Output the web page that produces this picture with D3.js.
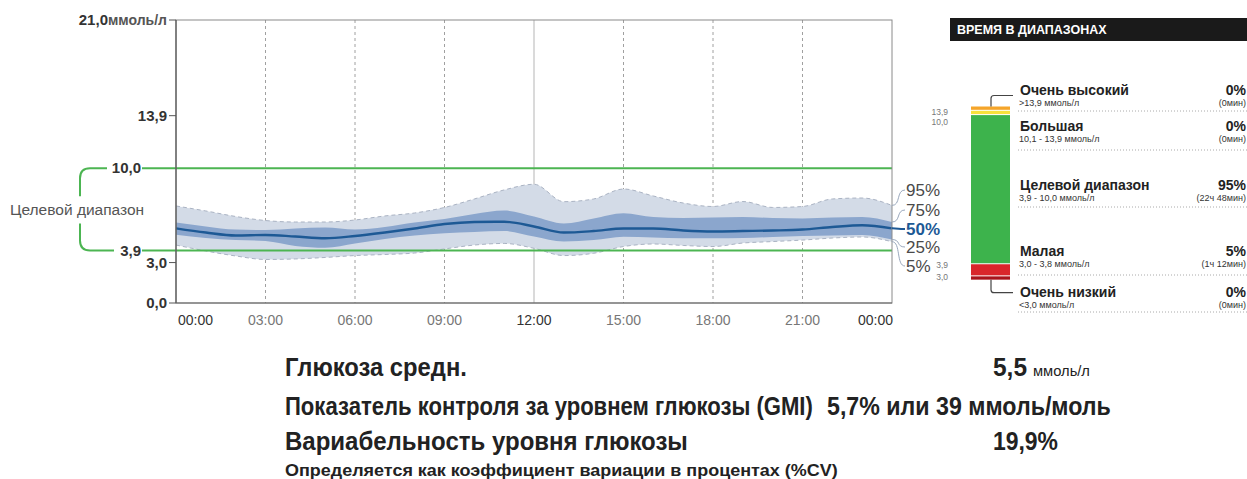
<!DOCTYPE html>
<html><head><meta charset="utf-8">
<script src="https://cdn.jsdelivr.net/npm/d3@7"></script>
<style>
html,body{margin:0;padding:0;background:#fff;}
svg{display:block;font-family:"Liberation Sans",Arial,sans-serif;}
</style></head>
<body><svg id="c" width="1247" height="479"></svg>
<script>
// ---- data ----
const hours = [0,1,2,3,4,5,6,7,8,9,10,11,12,13,14,15,16,17,18,19,20,21,22,23,24];
const p95 = [7.20,6.83,6.42,6.12,6.01,6.01,6.16,6.46,6.68,7.09,7.72,8.39,8.81,7.52,7.72,8.46,7.94,7.42,7.16,7.53,7.09,7.16,7.72,7.79,7.24];
const p75 = [5.97,5.68,5.45,5.42,5.53,5.60,5.45,5.64,5.97,6.23,6.60,6.86,6.42,5.90,6.27,6.66,6.38,6.31,6.34,6.38,6.31,6.27,6.34,6.38,6.01];
const p50 = [5.54,5.23,5.01,5.05,4.93,4.80,4.97,5.23,5.53,5.86,6.01,6.03,5.68,5.23,5.34,5.53,5.53,5.38,5.31,5.34,5.38,5.45,5.64,5.77,5.54];
const p25 = [5.07,4.82,4.67,4.60,4.23,4.10,4.42,4.75,5.01,5.17,5.27,5.34,4.93,4.56,4.67,4.92,4.86,4.80,4.80,4.82,4.90,4.97,5.01,5.05,4.71];
const p5  = [4.30,3.86,3.49,3.23,3.27,3.38,3.52,3.60,3.71,4.01,4.30,4.42,4.06,3.52,3.69,4.19,4.38,4.27,4.19,4.45,4.56,4.67,4.82,4.90,4.55];
const xTickHours = [0,3,6,9,12,15,18,21,24];
const xTickLabels = ["00:00","03:00","06:00","09:00","12:00","15:00","18:00","21:00","00:00"];
const yTicks = [21.0, 13.9, 3.0, 0.0];
const yTickLabels = ["21,0", "13,9", "3,0", "0,0"];
const targetLow = 3.9, targetHigh = 10.0;
const targetLabels = ["10,0", "3,9"];
const pctLabels = ["95%","75%","50%","25%","5%"];

const tirTitles = ["Очень высокий","Большая","Целевой диапазон","Малая","Очень низкий"];
const tirRanges = [">13,9 ммоль/л","10,1 - 13,9 ммоль/л","3,9 - 10,0 ммоль/л","3,0 - 3,8 ммоль/л","<3,0 ммоль/л"];
const tirPercents = [0, 0, 95, 5, 0];
const tirDurations = ["(0мин)","(0мин)","(22ч 48мин)","(1ч 12мин)","(0мин)"];
const barBoundLabels = ["13,9","10,0","3,9","3,0"];

const statLabels = ["Глюкоза средн.","Показатель контроля за уровнем глюкозы (GMI)","Вариабельность уровня глюкозы"];
const statValues = ["5,5","5,7% или 39 ммоль/моль","19,9%"];
const statUnit = "ммоль/л";
const statNote = "Определяется как коэффициент вариации в процентах (%CV)";

// ---- styles ----
const tirColors = ["#f5a52a","#f7e13c","#3db34c","#d9262b","#a8141c"];
const cLight = "#d3dbe7", cDark = "#8ba6cd", cMed = "#1d5995", cGreen = "#4cb552";

const svg = d3.select("#c");
const x = d3.scaleLinear().domain([0,24]).range([176,892]);
const y = d3.scaleLinear().domain([0,21]).range([303,20]);

// gridlines
svg.append("g").selectAll("line").data(xTickHours.slice(1,-1)).join("line")
  .attr("x1",d=>x(d)).attr("x2",d=>x(d)).attr("y1",y(21)).attr("y2",y(0))
  .attr("stroke",d=>d===12?"#b5b5b5":"#a0a0a0")
  .attr("stroke-width",1)
  .attr("stroke-dasharray",d=>d===12?null:"3,3");

// bands
const rows = hours.map((h,i)=>({h,p95:p95[i],p75:p75[i],p50:p50[i],p25:p25[i],p5:p5[i]}));
const curve = d3.curveMonotoneX;
svg.append("path").datum(rows)
  .attr("d", d3.area().x(d=>x(d.h)).y0(d=>y(d.p5)).y1(d=>y(d.p95)).curve(curve))
  .attr("fill", cLight);
["p95","p5"].forEach(k=>{
  svg.append("path").datum(rows)
    .attr("d", d3.line().x(d=>x(d.h)).y(d=>y(d[k])).curve(curve))
    .attr("fill","none").attr("stroke","#aab3c3").attr("stroke-width",1).attr("stroke-dasharray","4,3");
});
svg.append("path").datum(rows)
  .attr("d", d3.area().x(d=>x(d.h)).y0(d=>y(d.p25)).y1(d=>y(d.p75)).curve(curve))
  .attr("fill", cDark);

// target lines
svg.append("g").selectAll("line").data([targetHigh,targetLow]).join("line")
  .attr("x1",142).attr("x2",x(24)).attr("y1",d=>y(d)).attr("y2",d=>y(d))
  .attr("stroke",cGreen).attr("stroke-width",2);

// median
svg.append("path").datum(rows)
  .attr("d", d3.line().x(d=>x(d.h)).y(d=>y(d.p50)).curve(curve))
  .attr("fill","none").attr("stroke",cMed).attr("stroke-width",2.4);

// frame
svg.append("rect").attr("x",x(0)).attr("y",y(21)).attr("width",x(24)-x(0)).attr("height",y(0)-y(21))
  .attr("fill","none").attr("stroke","#8a8a8a").attr("stroke-width",1);
svg.append("line").attr("x1",x(0)).attr("x2",x(0)).attr("y1",y(21)).attr("y2",y(0)).attr("stroke","#555").attr("stroke-width",1.2);
svg.append("line").attr("x1",x(0)).attr("x2",x(24)).attr("y1",y(0)).attr("y2",y(0)).attr("stroke","#666").attr("stroke-width",1.2);

// y ticks
const yg = svg.append("g");
yTicks.forEach((v,i)=>{
  yg.append("line").attr("x1",x(0)-7).attr("x2",x(0)).attr("y1",y(v)).attr("y2",y(v)).attr("stroke","#555");
  const t = yg.append("text").attr("x",x(0)-9).attr("y",y(v)).attr("dy","0.35em").attr("text-anchor","end")
    .attr("font-size",15).attr("font-weight","bold").attr("fill","#333");
  if(i===0){ t.text(yTickLabels[i]).append("tspan").attr("font-size",14).attr("fill","#555").text("ммоль/л"); }
  else t.text(yTickLabels[i]);
});
[targetHigh,targetLow].forEach((v,i)=>{
  yg.append("text").attr("x",141).attr("y",y(v)).attr("dy","0.35em").attr("text-anchor","end")
    .attr("font-size",15).attr("font-weight","bold").attr("fill","#333").text(targetLabels[i]);
});

// target bracket
const yt = y(targetHigh), yb = y(targetLow);
svg.append("path").attr("d",`M107,${yt} H90 Q80,${yt} 80,${yt+10} V${yt+28}`)
  .attr("fill","none").attr("stroke",cGreen).attr("stroke-width",2);
svg.append("path").attr("d",`M80,${yb-27} V${yb-10} Q80,${yb} 90,${yb} H114`)
  .attr("fill","none").attr("stroke",cGreen).attr("stroke-width",2);
svg.append("text").attr("x",10).attr("y",(yt+yb)/2).attr("dy","0.35em").attr("font-size",15.5)
  .attr("fill","#555").text("Целевой диапазон");

// x tick labels
svg.append("g").selectAll("text").data(xTickHours).join("text")
  .attr("x",(d,i)=> i===0 ? x(d)+2 : (i===xTickHours.length-1 ? x(d)+1 : x(d)))
  .attr("y",325).attr("text-anchor",(d,i)=> i===0?"start":(i===xTickHours.length-1?"end":"middle"))
  .attr("font-size",14).attr("fill",d=>(d%12===0)?"#333":"#777")
  .text((d,i)=>xTickLabels[i]);

// percentile labels
const last = rows[rows.length-1];
const pctKeys = ["p95","p75","p50","p25","p5"];
const pctY = [190,210,229,247,266];
const x0 = x(24), x1 = x0+13;
pctKeys.forEach((k,i)=>{
  const y0 = y(last[k]), y1 = pctY[i];
  svg.append("path").attr("d",`M${x0},${y0} C${x0+9},${y0} ${x1-9},${y1} ${x1},${y1}`)
    .attr("fill","none").attr("stroke",k==="p50"?cMed:"#9aa8bd").attr("stroke-width",k==="p50"?2:1);
  svg.append("text").attr("x",x1+1).attr("y",y1).attr("dy","0.35em").attr("font-size",17)
    .attr("font-weight",k==="p50"?"bold":"normal").attr("fill",k==="p50"?cMed:"#4a4a4a").text(pctLabels[i]);
});

// ---- right panel ----
svg.append("rect").attr("x",950).attr("y",18).attr("width",297).attr("height",23).attr("fill","#1a1a1a");
svg.append("text").attr("x",957).attr("y",30).attr("dy","0.35em").attr("font-size",12.5).attr("font-weight","bold")
  .attr("fill","#fff").text("ВРЕМЯ В ДИАПАЗОНАХ");

const hS = d3.scalePow().exponent(0.88).domain([0,100]).range([0,155]);
let cy = 106.5;
const segs = tirPercents.map((p,i)=>{ const h = Math.max(3.3,hS(p)); const s={y:cy,h,i}; cy += h+1; return s; });
svg.append("g").selectAll("rect").data(segs).join("rect")
  .attr("x",971).attr("width",39).attr("y",d=>d.y).attr("height",d=>d.h).attr("fill",d=>tirColors[d.i]);
const bl = [segs[1].y, segs[2].y, segs[3].y, segs[4].y];
const blY = [bl[0]+1, bl[1]+7, bl[2]+1, bl[3]+1];
svg.append("g").selectAll("text").data(barBoundLabels).join("text")
  .attr("x",948).attr("y",(d,i)=>blY[i]).attr("dy","0.35em").attr("text-anchor","end")
  .attr("font-size",8.5).attr("fill","#777").text(d=>d);
// brackets
const topY = segs[0].y, botY = segs[4].y+segs[4].h;
svg.append("path").attr("d",`M991,${topY} V${topY-8} Q991,${topY-11} 994,${topY-11} H1013`)
  .attr("fill","none").attr("stroke","#444").attr("stroke-width",1.2);
svg.append("path").attr("d",`M991,${botY} V${botY+10} Q991,${botY+13} 994,${botY+13} H1013`)
  .attr("fill","none").attr("stroke","#444").attr("stroke-width",1.2);

const rowTitleY = [90,126,185,251,292];
const sepY = [111,150,207,275,312];
const rp = svg.append("g");
tirTitles.forEach((t,i)=>{
  rp.append("text").attr("x",1020).attr("y",rowTitleY[i]).attr("dy","0.35em").attr("font-size",14)
    .attr("font-weight","bold").attr("fill","#222").text(t);
  rp.append("text").attr("x",1019).attr("y",rowTitleY[i]+13).attr("dy","0.35em").attr("font-size",9)
    .attr("fill","#333").text(tirRanges[i]);
  rp.append("text").attr("x",1246).attr("y",rowTitleY[i]).attr("dy","0.35em").attr("text-anchor","end")
    .attr("font-size",14).attr("font-weight","bold").attr("fill","#222").text(tirPercents[i]+"%");
  rp.append("text").attr("x",1246).attr("y",rowTitleY[i]+13).attr("dy","0.35em").attr("text-anchor","end")
    .attr("font-size",9).attr("fill","#333").text(tirDurations[i]);
  rp.append("line").attr("x1",1018).attr("x2",1247).attr("y1",sepY[i]).attr("y2",sepY[i])
    .attr("stroke","#aaa").attr("stroke-width",1).attr("stroke-dasharray","1,2");
});

// ---- bottom stats (condensed by horizontal scaling to the reference widths) ----
const bs = svg.append("g").attr("fill","#222").attr("font-weight","bold");
function fitText(txt, px, py, size, width, bold){
  const t = bs.append("text").attr("x",0).attr("y",0).attr("font-size",size)
    .attr("font-weight",bold?"bold":"normal").text(txt);
  const w = t.node().getComputedTextLength();
  t.attr("transform",`translate(${px},${py}) scale(${width/w},1)`);
  return t;
}
const statY = [376,415,450];
const statW = [182,528,403];
statLabels.forEach((t,i)=> fitText(t,285,statY[i],25,statW[i],true));
fitText(statValues[0],993,statY[0],25,34,true);
fitText(statUnit,1033,statY[0],14,57,false);
fitText(statValues[1],827,statY[1],25,284,true);
fitText(statValues[2],993,statY[2],25,65,true);
fitText(statNote,285,476,17,553,true);
</script></body></html>
